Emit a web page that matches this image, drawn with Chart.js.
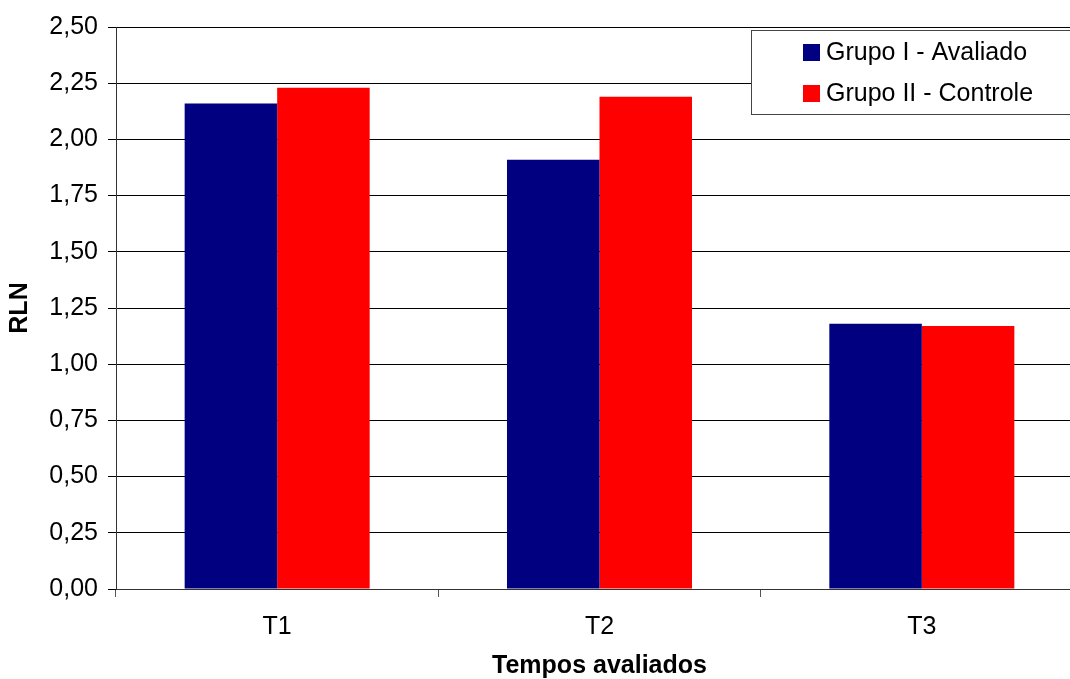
<!DOCTYPE html>
<html>
<head>
<meta charset="utf-8">
<script src="https://cdn.jsdelivr.net/npm/chart.js@4/dist/chart.umd.min.js"></script>
<style>
  html, body { margin: 0; padding: 0; background: #fff; overflow: hidden; }
  #wrap { position: relative; width: 1090px; height: 679px; }
</style>
</head>
<body>
<div id="wrap"><canvas id="c" width="1090" height="679"></canvas></div>
<script>
// Time points and RLN means per group
const categories = ['T1', 'T2', 'T3'];
const grupoI = [2.16, 1.91, 1.18];
const grupoII = [2.23, 2.19, 1.17];
const seriesNames = ['Grupo I - Avaliado', 'Grupo II - Controle'];
const seriesColors = ['#000080', '#ff0000'];
const yTicks = [0, 0.25, 0.5, 0.75, 1, 1.25, 1.5, 1.75, 2, 2.25, 2.5];

const FONT = "'Liberation Sans', Arial, sans-serif";

// Boxed legend in the upper right corner of the plot
const boxLegend = {
  id: 'boxLegend',
  afterDraw(chart) {
    const ctx = chart.ctx;
    const x0 = 751, y0 = 30, w = 340, h = 84;
    ctx.save();
    ctx.fillStyle = '#ffffff';
    ctx.fillRect(x0, y0, w, h);
    ctx.strokeStyle = '#444';
    ctx.lineWidth = 1;
    ctx.strokeRect(x0 + 0.5, y0 + 0.5, w, h);
    ctx.font = '25px ' + FONT;
    ctx.textBaseline = 'middle';
    ctx.textAlign = 'left';
    chart.data.datasets.forEach((ds, i) => {
      const cy = 52 + i * 41;
      ctx.fillStyle = ds.backgroundColor;
      ctx.fillRect(803, cy - 8, 17, 17);
      ctx.fillStyle = '#000';
      ctx.fillText(ds.label, 826, cy + 1);
    });
    ctx.restore();
  }
};

new Chart(document.getElementById('c'), {
  type: 'bar',
  data: {
    labels: categories,
    datasets: [
      { label: seriesNames[0], data: grupoI, backgroundColor: seriesColors[0], borderWidth: 0 },
      { label: seriesNames[1], data: grupoII, backgroundColor: seriesColors[1], borderWidth: 0 }
    ]
  },
  options: {
    responsive: false,
    animation: false,
    events: [],
    layout: { padding: { left: 0, right: 7, top: 27, bottom: 0 } },
    datasets: { bar: { categoryPercentage: 0.574, barPercentage: 1.0 } },
    plugins: { legend: { display: false }, tooltip: { enabled: false } },
    scales: {
      x: {
        afterFit(scale) { scale.height = 90; },
        grid: { drawOnChartArea: false, offset: true, tickLength: 8, color: '#555' },
        border: { color: '#333', width: 1 },
        ticks: { color: '#000', font: { family: FONT, size: 25 }, padding: 15 },
        title: {
          display: true, text: 'Tempos avaliados', color: '#000',
          font: { family: FONT, size: 25, weight: 'bold', lineHeight: 1 },
          padding: { top: 0, bottom: 0 }
        }
      },
      y: {
        min: 0, max: 2.5,
        afterFit(scale) { scale.width = 116; },
        afterBuildTicks(scale) { scale.ticks = yTicks.map(v => ({ value: v })); },
        grid: { color: '#000', tickLength: 8, lineWidth: 1 },
        border: { color: '#333', width: 1 },
        ticks: {
          color: '#000', font: { family: FONT, size: 25 }, padding: 10,
          callback: v => v.toFixed(2).replace('.', ',')
        },
        title: {
          display: true, text: 'RLN', color: '#000',
          font: { family: FONT, size: 25, weight: 'bold', lineHeight: 1 },
          padding: { top: 8, bottom: 0 }
        }
      }
    }
  },
  plugins: [boxLegend]
});
</script>
</body>
</html>
